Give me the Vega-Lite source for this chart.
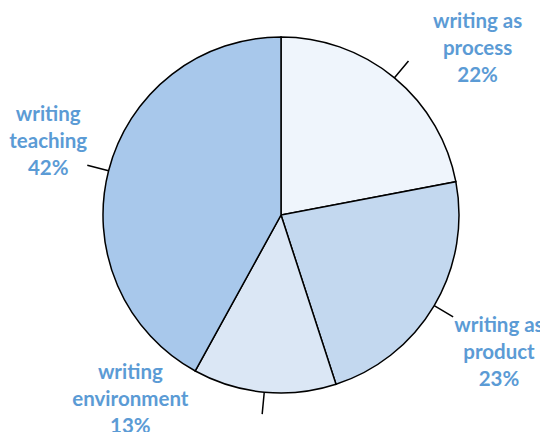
{
  "$schema": "https://vega.github.io/schema/vega-lite/v6.json",
  "width": 518,
  "height": 430,
  "autosize": "none",
  "padding": {"left": 22, "top": 0, "right": 0, "bottom": 2},
  "background": "white",
  "config": {"view": {"stroke": null}},
  "data": {
    "values": [
      {"category": "writing as process", "value": 22},
      {"category": "writing as product", "value": 23},
      {"category": "writing environment", "value": 13},
      {"category": "writing teaching", "value": 42}
    ]
  },
  "transform": [
    {"calculate": "[test(/^writing as /, datum.category) ? 'writing as' : 'writing', replace(datum.category, /^writing (as )?/, ''), datum.value + '%']", "as": "label"},
    {"window": [{"op": "sum", "field": "value", "as": "cum"}], "sort": [{"field": "category"}], "frame": [null, 0]},
    {"calculate": "datum.cum - datum.value / 2", "as": "mid"}
  ],
  "layer": [
    {
      "mark": {"type": "arc", "outerRadius": 178, "stroke": "#000000", "strokeWidth": 1.5},
      "encoding": {
        "theta": {"field": "value", "type": "quantitative", "stack": true},
        "order": {"field": "category", "sort": "ascending"},
        "fill": {
          "field": "category",
          "type": "nominal",
          "legend": null,
          "scale": {
            "domain": ["writing as process", "writing as product", "writing environment", "writing teaching"],
            "range": ["#eff5fc", "#c3d8ef", "#dbe7f5", "#a8c8eb"]
          }
        }
      }
    },
    {
      "mark": {"type": "arc", "innerRadius": 178, "outerRadius": 200, "stroke": "#000000", "strokeWidth": 1.5, "fill": null},
      "encoding": {
        "theta": {"field": "mid", "type": "quantitative", "scale": {"domain": [0, 100]}, "stack": null},
        "theta2": {"field": "mid"}
      }
    },
    {
      "transform": [{"filter": "datum.category == 'writing as process'"}],
      "mark": {"type": "text", "radius": 230, "dx": 50, "dy": -16, "font": "Lato", "fontWeight": "bold", "fontSize": 20.5, "lineHeight": 27, "color": "#5b9bd5", "align": "center", "baseline": "middle"},
      "encoding": {"theta": {"field": "mid", "type": "quantitative", "scale": {"domain": [0, 100]}, "stack": null}, "text": {"field": "label"}}
    },
    {
      "transform": [{"filter": "datum.category == 'writing as product'"}],
      "mark": {"type": "text", "radius": 230, "dx": 20, "dy": -6, "font": "Lato", "fontWeight": "bold", "fontSize": 20.5, "lineHeight": 27, "color": "#5b9bd5", "align": "center", "baseline": "middle"},
      "encoding": {"theta": {"field": "mid", "type": "quantitative", "scale": {"domain": [0, 100]}, "stack": null}, "text": {"field": "label"}}
    },
    {
      "transform": [{"filter": "datum.category == 'writing environment'"}],
      "mark": {"type": "text", "radius": 230, "dx": -129, "dy": -71, "font": "Lato", "fontWeight": "bold", "fontSize": 20.5, "lineHeight": 27, "color": "#5b9bd5", "align": "center", "baseline": "middle"},
      "encoding": {"theta": {"field": "mid", "type": "quantitative", "scale": {"domain": [0, 100]}, "stack": null}, "text": {"field": "label"}}
    },
    {
      "transform": [{"filter": "datum.category == 'writing teaching'"}],
      "mark": {"type": "text", "radius": 230, "dx": -10, "dy": -43, "font": "Lato", "fontWeight": "bold", "fontSize": 20.5, "lineHeight": 27, "color": "#5b9bd5", "align": "center", "baseline": "middle"},
      "encoding": {"theta": {"field": "mid", "type": "quantitative", "scale": {"domain": [0, 100]}, "stack": null}, "text": {"field": "label"}}
    }
  ],
  "resolve": {"scale": {"theta": "independent"}}
}
